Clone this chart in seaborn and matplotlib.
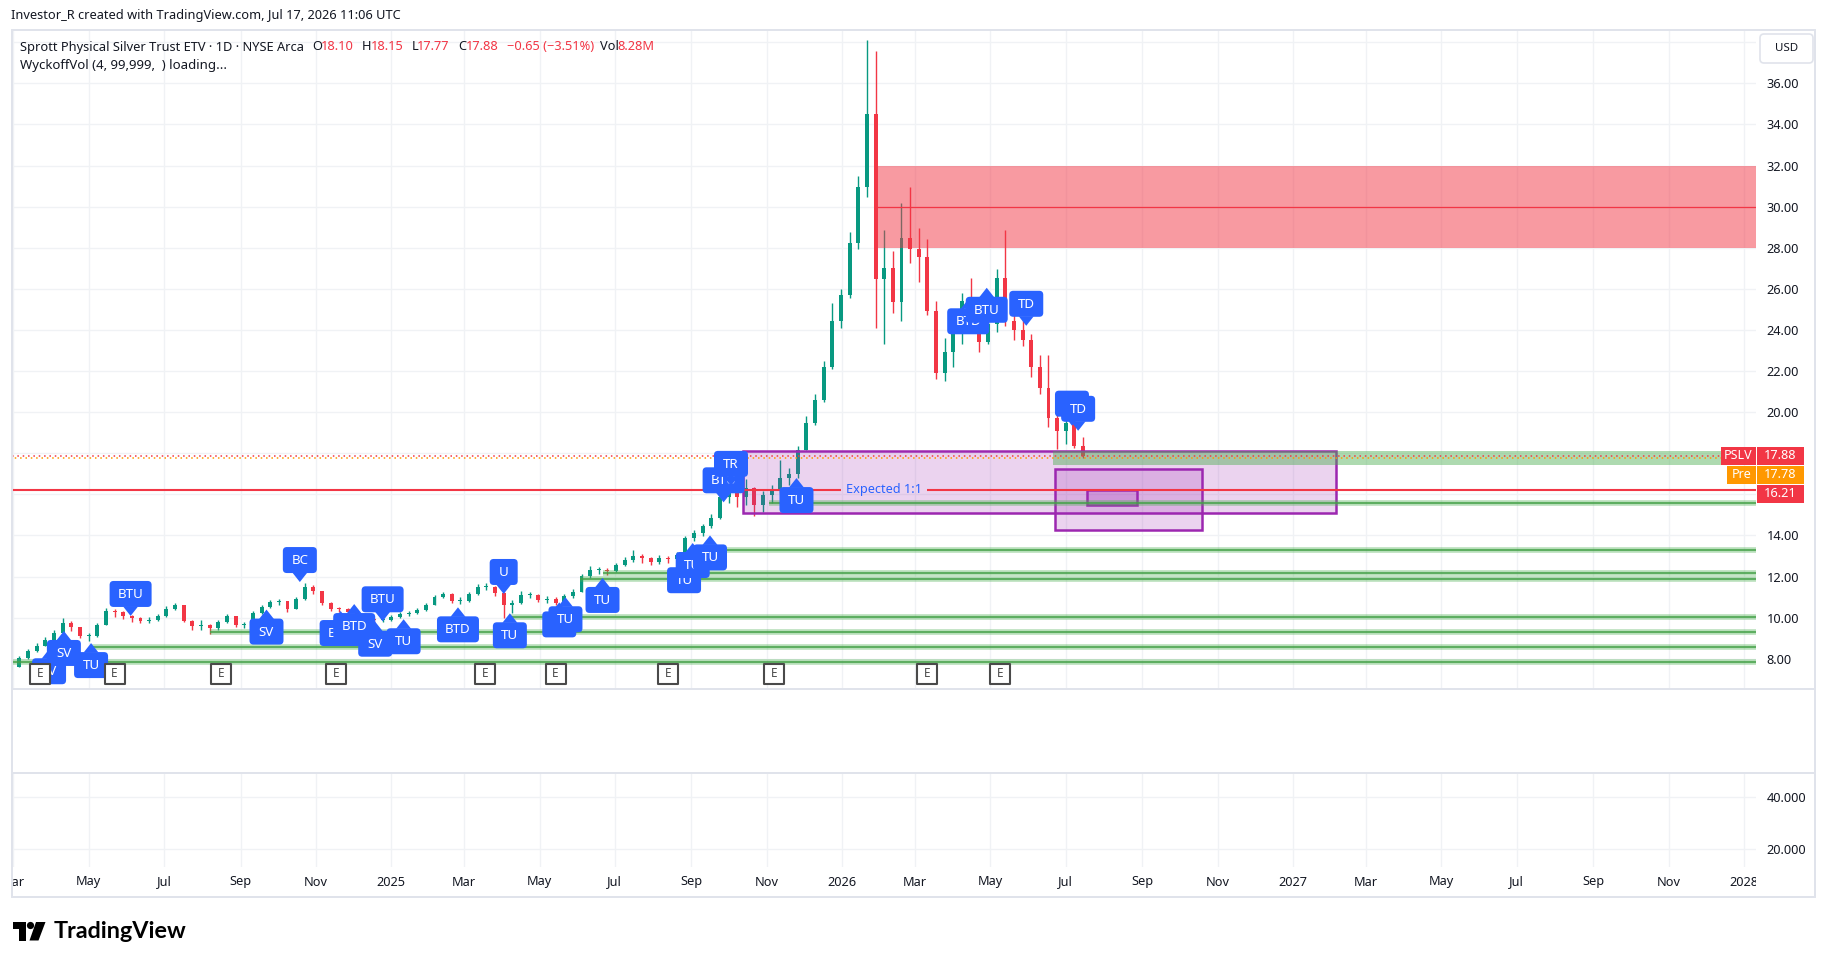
import numpy as np
import pandas as pd
import matplotlib
matplotlib.use('Agg')
import matplotlib.pyplot as plt
import matplotlib.dates as mdates
import matplotlib.transforms as mtransforms
from matplotlib.patches import Rectangle, FancyBboxPatch, Polygon, Circle
from matplotlib.lines import Line2D
import seaborn as sns

# ---------------- data (weekly candles) ----------------
first_week = '2024-03-01'
first_open = 7.45
closes = [7.62, 8.02, 8.37, 8.62, 8.92, 9.27, 9.72, 9.52, 9.12, 9.12,
          9.62, 10.32, 10.27, 10.07, 9.97, 9.82, 9.87, 10.07, 10.44, 10.62,
          9.82, 9.57, 9.62, 9.47, 9.77, 10.07, 9.62, 9.67, 10.22, 10.52,
          10.74, 10.80, 10.42, 10.92, 11.51, 11.28, 10.72, 10.42, 10.40, 10.27,
          10.10, 9.92, 9.87, 9.87, 10.04, 10.19, 10.22, 10.37, 10.62, 10.98,
          11.13, 10.83, 10.83, 11.13, 11.48, 11.48, 11.18, 10.62, 10.72, 11.08,
          11.08, 10.85, 10.91, 10.73, 11.03, 11.23, 12.03, 12.33, 12.33, 12.28,
          12.58, 12.78, 13.00, 12.88, 12.71, 12.89, 12.83, 13.05, 13.85, 14.10,
          14.45, 14.85, 15.86, 16.16, 15.86, 16.31, 15.46, 15.96, 16.16, 16.77,
          16.97, 18.17, 19.49, 20.59, 22.21, 24.41, 25.71, 28.24, 30.97, 34.50,
          26.50, 27.00, 25.35, 28.45, 27.95, 27.55, 24.91, 21.89, 22.91, 24.11,
          25.41, 25.21, 23.41, 24.31, 26.54, 24.41, 24.01, 23.51, 22.19, 21.19,
          19.69, 19.09, 19.47, 18.37, 17.88]
highs = [7.72, 8.12, 8.47, 8.77, 9.07, 9.42, 9.97, 9.82, 9.52, 9.27,
         9.72, 10.47, 10.42, 10.32, 10.12, 10.02, 10.02, 10.17, 10.57, 10.72,
         10.62, 9.87, 9.87, 9.67, 9.87, 10.17, 10.07, 9.77, 10.32, 10.62,
         10.87, 10.92, 10.82, 11.02, 11.68, 11.58, 11.28, 10.77, 10.52, 10.47,
         10.32, 10.17, 9.97, 10.02, 10.12, 10.27, 10.32, 10.47, 10.72, 11.08,
         11.23, 11.18, 10.98, 11.23, 11.63, 11.68, 11.53, 11.23, 10.87, 11.28,
         11.23, 11.13, 11.03, 10.98, 11.13, 11.38, 12.13, 12.53, 12.48, 12.43,
         12.68, 12.93, 13.30, 13.10, 12.95, 13.05, 12.98, 13.20, 13.95, 14.25,
         14.55, 15.05, 16.16, 16.36, 16.46, 16.76, 16.36, 16.16, 16.46, 17.67,
         17.27, 18.37, 19.79, 20.89, 22.51, 25.31, 26.01, 28.74, 31.47, 38.10,
         37.55, 28.84, 27.84, 30.17, 30.97, 28.94, 28.44, 25.41, 23.61, 24.41,
         25.81, 26.55, 25.51, 24.91, 26.94, 28.87, 25.21, 24.51, 23.81, 22.79,
         22.79, 19.89, 19.89, 19.67, 18.77]
lows = [7.37, 7.62, 7.97, 8.32, 8.62, 8.87, 9.22, 9.37, 9.02, 8.87,
        9.07, 9.62, 10.02, 9.92, 9.77, 9.72, 9.72, 9.82, 10.02, 10.37,
        9.77, 9.42, 9.42, 9.22, 9.42, 9.72, 9.52, 9.47, 9.62, 10.17,
        10.47, 10.62, 10.27, 10.42, 10.88, 11.13, 10.62, 10.32, 10.27, 10.17,
        9.97, 9.77, 9.72, 9.77, 9.82, 9.97, 10.07, 10.17, 10.32, 10.62,
        10.93, 10.73, 10.68, 10.78, 11.08, 11.33, 11.03, 9.97, 10.22, 10.67,
        10.93, 10.78, 10.73, 10.63, 10.68, 10.93, 11.23, 11.93, 12.13, 12.08,
        12.23, 12.53, 12.73, 12.68, 12.58, 12.63, 12.68, 12.73, 13.00, 13.75,
        13.95, 14.35, 14.80, 15.56, 15.36, 15.46, 14.96, 15.16, 15.56, 16.06,
        16.47, 16.77, 18.17, 19.39, 20.49, 22.11, 24.11, 25.54, 27.94, 30.47,
        24.11, 23.31, 24.81, 24.41, 27.24, 26.34, 24.71, 21.59, 21.49, 22.19,
        23.31, 24.51, 22.91, 23.31, 23.91, 24.21, 23.51, 23.21, 21.69, 20.89,
        19.29, 18.19, 18.47, 18.27, 17.77]

price_ticks = [8, 10, 12, 14, 16, 18, 20, 22, 24, 26, 28, 30, 32, 34, 36]
grid_prices = [8, 10, 12, 14, 16, 18, 20, 22, 24, 26, 28, 30, 32, 34, 36, 38]
vol_ticks = [20, 40]

xtick_dates = ['2024-03-01', '2024-05-01', '2024-07-01', '2024-09-01', '2024-11-01',
               '2025-01-01', '2025-03-01', '2025-05-01', '2025-07-01', '2025-09-01', '2025-11-01',
               '2026-01-01', '2026-03-01', '2026-05-01', '2026-07-01', '2026-09-01', '2026-11-01',
               '2027-01-01', '2027-03-01', '2027-05-01', '2027-07-01', '2027-09-01', '2027-11-01',
               '2028-01-01']
xtick_labels = ['Mar', 'May', 'Jul', 'Sep', 'Nov', '2025', 'Mar', 'May', 'Jul', 'Sep', 'Nov',
                '2026', 'Mar', 'May', 'Jul', 'Sep', 'Nov', '2027', 'Mar', 'May', 'Jul', 'Sep', 'Nov',
                '2028']

# drawings
red_zone_start = '2026-01-29'
red_zone_low, red_zone_high, red_zone_mid = 28.0, 32.0, 30.0
target_price = 16.21
last_price = 17.88
pre_price = 17.78
support_levels = [15.56, 13.29, 12.16, 11.86, 10.04, 9.30, 8.56, 7.82]
support_starts = ['2025-11-03', '2025-08-31', '2025-06-21', '2025-06-03',
                  '2025-04-07', '2024-08-07', '2024-05-03', '2024-03-01']
green_band_start = '2026-06-21'
green_band_low, green_band_high = 17.44, 18.12
box_starts = ['2025-10-13', '2026-06-22', '2026-07-18']
box_ends = ['2027-02-05', '2026-10-19', '2026-08-28']
box_lows = [15.10, 14.26, 15.49]
box_highs = [18.12, 17.25, 16.21]
expected_text = 'Expected 1:1'
expected_date = '2026-02-04'
expected_gap = ('2025-12-31', '2026-03-11')

# Wyckoff signal labels
signal_dates = ['2024-03-30', '2024-04-11', '2024-05-03', '2024-06-04', '2024-10-19', '2024-09-22',
                '2024-11-21', '2024-12-02', '2024-12-25', '2024-12-19', '2025-01-11', '2025-02-24',
                '2025-04-02', '2025-04-07', '2025-05-17', '2025-05-22', '2025-06-21', '2025-08-26',
                '2025-09-02', '2025-09-16', '2025-09-27', '2025-10-03', '2025-11-25', '2026-04-13',
                '2026-04-28', '2026-05-30', '2026-07-06', '2026-07-11']
signal_prices = [8.46, 9.35, 8.76, 10.08, 11.73, 10.39, 10.32, 10.66, 9.82, 9.80, 9.92, 10.50,
                 11.15, 10.21, 10.74, 10.99, 11.93, 12.89, 13.63, 14.00, 15.61, 16.41, 16.79, 25.49,
                 26.05, 24.20, 19.34, 19.09]
signal_texts = ['SV', 'SV', 'TU', 'BTU', 'BC', 'SV', 'BTD', 'BTD', 'BTU', 'SV', 'TU', 'BTD',
                'U', 'TU', 'TU', 'TU', 'TU', 'TU', 'TU', 'TU', 'BTU', 'TR', 'TU', 'BTD',
                'BTU', 'TD', 'TD', 'TD']
signal_dirs = ['up', 'up', 'up', 'down', 'down', 'up', 'up', 'up', 'down', 'up', 'up', 'up',
               'down', 'up', 'up', 'up', 'up', 'up', 'up', 'up', 'down', 'down', 'up', 'up',
               'up', 'down', 'down', 'down']

earn_dates = ['2024-03-23', '2024-05-22', '2024-08-16', '2024-11-17', '2025-03-18',
              '2025-05-14', '2025-08-13', '2025-11-07', '2026-03-11', '2026-05-09']
earn_level = 7.26

title_text = 'Investor_R created with TradingView.com, Jul 17, 2026 11:06 UTC'
symbol_text = 'Sprott Physical Silver Trust ETV · 1D · NYSE Arca'
ohlc_names = ['O', 'H', 'L', 'C']
ohlc_values = ['18.10', '18.15', '17.77', '17.88']
change_text = '\u22120.65 (\u22123.51%)'
vol_text = '8.28M'
indicator_text = 'WyckoffVol (4, 99,999,  ) loading...'

# ---------------- style ----------------
UP = '#089981'
DOWN = '#F23645'
RED = '#F23645'
ORANGE = '#FF9800'
BLUE = '#2962FF'
PURPLE = '#9C27B0'
GREEN = '#4CAF50'
GRID = '#F0F2F5'
FRAME = '#E0E3EB'
INK = '#131722'

sns.set_theme(style='white')
plt.rcParams['font.family'] = ['Noto Sans', 'DejaVu Sans']

W, H = 1826, 964
fig = plt.figure(figsize=(W / 100, H / 100), dpi=100)
fig.patch.set_facecolor('white')


def frac(x0, y0, x1, y1):
    return [x0 / W, 1 - y1 / H, (x1 - x0) / W, (y1 - y0) / H]


PL, PR = 12, 1756
ax = fig.add_axes(frac(PL, 30, PR, 689.3))
ax2 = fig.add_axes(frac(PL, 689.3, PR, 772.7), sharex=ax)
ax3 = fig.add_axes(frac(PL, 772.7, PR, 866.7), sharex=ax)
axt = fig.add_axes(frac(PL, 866.7, PR, 897.3), sharex=ax)

num = lambda d: mdates.date2num(pd.Timestamp(d))
x_left = num('2024-02-29')
x_right = num('2028-01-10') + 0.7
ax.set_xlim(x_left, x_right)
ax.set_ylim(6.511, 38.594)
ax2.set_ylim(0, 1)
ax3.set_ylim(13.3, 49.46)
axt.set_ylim(0, 1)

for a in (ax, ax2, ax3, axt):
    a.set_facecolor('white')
    for s in a.spines.values():
        s.set_visible(False)
    a.tick_params(axis='x', length=0, labelbottom=False)
ax2.set_yticks([])
axt.set_yticks([])

# pixel transform (image pixels, y down)
pix = mtransforms.Affine2D().scale(1.0 / W, -1.0 / H).translate(0, 1) + fig.transFigure


def to_px(xn, p, a=ax):
    xd, yd = a.transData.transform((xn, p))
    return xd, H - yd


# grid
xt = [num(d) for d in xtick_dates]
for x in xt:
    ax.axvline(x, color=GRID, lw=1, zorder=0)
    ax3.axvline(x, color=GRID, lw=1, zorder=0)
for p in grid_prices:
    ax.axhline(p, color=GRID, lw=1, zorder=0)
for v in vol_ticks:
    ax3.axhline(v, color=GRID, lw=1, zorder=0)

# price axis labels
ax.yaxis.tick_right()
ax.set_yticks(price_ticks)
ax.set_yticklabels([f'{v:.2f}' for v in price_ticks])
ax.tick_params(axis='y', length=0, pad=7.5, labelsize=9.2, labelcolor=INK)
ax3.yaxis.tick_right()
ax3.set_yticks(vol_ticks)
ax3.set_yticklabels([f'{v:.3f}' for v in vol_ticks])
ax3.tick_params(axis='y', length=0, pad=7.5, labelsize=9.2, labelcolor=INK)
ax.grid(False)
ax3.grid(False)

# candles
week_dates = pd.date_range(first_week, periods=len(closes), freq='7D') - pd.Timedelta(days=2)
xd = mdates.date2num(week_dates)
c = np.array(closes)
o = np.array([first_open] + closes[:-1])
cols = [UP if cc >= oo else DOWN for cc, oo in zip(c, o)]
ax.vlines(xd, lows, highs, colors=cols, lw=1.0, zorder=2)
ax.bar(xd, np.maximum(np.abs(c - o), 0.05), bottom=np.minimum(o, c), width=3.2,
       color=cols, linewidth=0, zorder=3)

# red zone
rz0 = num(red_zone_start)
ax.add_patch(Rectangle((rz0, red_zone_low), x_right - rz0, red_zone_high - red_zone_low,
                       facecolor=RED, alpha=0.5, lw=0, zorder=4))
ax.hlines(red_zone_mid, rz0, x_right, color=RED, lw=0.9, zorder=4.1)

# purple boxes
for b0, b1, lo, hi in zip(box_starts, box_ends, box_lows, box_highs):
    ax.add_patch(Rectangle((num(b0), lo), num(b1) - num(b0), hi - lo,
                           facecolor=(0.612, 0.153, 0.69, 0.2), edgecolor=PURPLE, lw=1.8, zorder=4.2))

# green band
gb0 = num(green_band_start)
ax.add_patch(Rectangle((gb0, green_band_low), x_right - gb0, green_band_high - green_band_low,
                       facecolor=GREEN, alpha=0.45, lw=0, zorder=4.3))

# support lines
for lvl, st in zip(support_levels, support_starts):
    ax.hlines(lvl, num(st), x_right, color=GREEN, alpha=0.4, lw=4.0, zorder=4.4)
    ax.hlines(lvl, num(st), x_right, color='#43A047', lw=1.1, zorder=4.5)

# target line with text gap
ax.hlines(target_price, x_left, num(expected_gap[0]), color=RED, lw=1.5, zorder=4.6)
ax.hlines(target_price, num(expected_gap[1]), x_right, color=RED, lw=1.5, zorder=4.6)
exp_t = ax.text(num(expected_date), target_price, expected_text, color=BLUE, ha='center',
                va='center', fontsize=9.5, zorder=4.7)

# price lines (dotted)
ax.axhline(last_price, color=RED, lw=1.1, ls=(0, (1, 2.5)), zorder=4.8)
ax.axhline(pre_price, color=ORANGE, lw=1.1, ls=(1.7, (1, 2.5)), zorder=4.8)

# signal labels
widths = {1: 28, 2: 34, 3: 42}
for i, (d, p, t, dr) in enumerate(zip(signal_dates, signal_prices, signal_texts, signal_dirs)):
    tx, ty = to_px(num(d), p)
    w = widths[len(t)]
    z = 6 + i * 0.02
    if dr == 'up':
        top = ty + 9
        tri = [(tx, ty), (tx - 7.5, ty + 9.5), (tx + 7.5, ty + 9.5)]
    else:
        top = ty - 35
        tri = [(tx, ty), (tx - 7.5, ty - 9.5), (tx + 7.5, ty - 9.5)]
    ax.add_patch(FancyBboxPatch((tx - w / 2, top), w, 26, boxstyle='round,pad=0,rounding_size=4',
                                transform=pix, fc=BLUE, ec='none', zorder=z, clip_on=False))
    ax.add_patch(Polygon(tri, closed=True, transform=pix, fc=BLUE, ec='none', zorder=z, clip_on=False))
    ax.text(tx, top + 13.5, t, transform=pix, ha='center', va='center', color='white',
            fontsize=9.6, zorder=z + 0.01)

# earnings markers
ex = [num(d) for d in earn_dates]
sns.scatterplot(x=ex, y=[earn_level] * len(ex), marker='s', s=200, color='white',
                edgecolor='#4A4A4A', linewidth=1.5, ax=ax, zorder=8, legend=False)
for x in ex:
    ax.text(x, earn_level, 'E', ha='center', va='center', fontsize=8.5, fontweight='bold',
            color='#4A4A4A', zorder=8.1)
ax.set_xlabel('')
ax.set_ylabel('')

# time axis labels
for x, lab in zip(xt, xtick_labels):
    axt.text(x, 0.5, lab, transform=axt.get_xaxis_transform(), ha='center', va='center',
             fontsize=9.2, fontweight='bold' if lab.isdigit() else 'normal', color=INK, clip_on=True)

# frame and pane separators
fig.add_artist(Rectangle((11.5, 30), 1815 - 11.5, 897.3 - 30, transform=pix, fill=False,
                         ec=FRAME, lw=1.4, zorder=3))
for yy in (689.3, 772.7):
    fig.add_artist(Line2D([11.5, 1815], [yy, yy], transform=pix, color=FRAME, lw=1.4, zorder=3))

# price tags on the axis
tag_h = 18
_, y_last = to_px(x_left, last_price)
_, y_pre = to_px(x_left, pre_price)
_, y_tgt = to_px(x_left, target_price)
prev_bottom = -1e9
for yc, txt, col, side in [(y_last, f'{last_price:.2f}', RED, 'PSLV'),
                           (y_pre, f'{pre_price:.2f}', ORANGE, 'Pre'),
                           (y_tgt, f'{target_price:.2f}', RED, None)]:
    yc = max(yc, prev_bottom + 1 + tag_h / 2)
    prev_bottom = yc + tag_h / 2
    fig.add_artist(Rectangle((1757, yc - tag_h / 2), 47, tag_h, transform=pix, fc=col, ec='none', zorder=5))
    fig.text(1780.5, yc, txt, transform=pix, ha='center', va='center', color='white', fontsize=9.2, zorder=6)
    if side:
        sw = 35 if side == 'PSLV' else 29
        fig.add_artist(Rectangle((1756 - sw, yc - tag_h / 2), sw, tag_h, transform=pix, fc=col,
                                 ec='none', zorder=5))
        fig.text(1756 - sw / 2, yc, side, transform=pix, ha='center', va='center', color='white',
                 fontsize=9, zorder=6)

# USD box
fig.add_artist(FancyBboxPatch((1760, 34), 53, 29, boxstyle='round,pad=0,rounding_size=4',
                              transform=pix, fc='white', ec=FRAME, lw=1.2, zorder=5))
fig.text(1786.5, 48.5, 'USD', transform=pix, ha='center', va='center', fontsize=8.3, color=INK, zorder=6)

# header text
r = fig.canvas.get_renderer()


def fit(t, target):
    w = t.get_window_extent(r).width
    t.set_fontsize(t.get_fontsize() * target / w)


t_title = fig.text(11, 16, title_text, transform=pix, ha='left', va='center', fontsize=9.5, color=INK)
fit(t_title, 389)
t_sym = fig.text(20, 47, symbol_text, transform=pix, ha='left', va='center', fontsize=9.5, color=INK)
fit(t_sym, 283)
fs = t_sym.get_fontsize()
name_x = [312.5, 361.6, 411.6, 458.5]
val_x = [320.5, 370.5, 416.5, 465.6]
for nm, vl, nx, vx in zip(ohlc_names, ohlc_values, name_x, val_x):
    fig.text(nx, 47, nm, transform=pix, ha='left', va='center', fontsize=fs, color=INK)
    fig.text(vx, 47, vl, transform=pix, ha='left', va='center', fontsize=fs, color=RED)
fig.text(506.7, 47, change_text, transform=pix, ha='left', va='center', fontsize=fs, color=RED)
fig.text(600, 47, 'Vol', transform=pix, ha='left', va='center', fontsize=fs, color=INK)
fig.text(617.4, 47, vol_text, transform=pix, ha='left', va='center', fontsize=fs, color=RED)
t_ind = fig.text(20, 65.5, indicator_text, transform=pix, ha='left', va='center', fontsize=fs, color=INK)
fit(t_ind, 208)
fit(exp_t, 76)

# TradingView logo
fig.add_artist(Polygon([(12.5, 922), (26, 922), (26, 940.5), (19, 940.5), (19, 929), (12.5, 929)],
                       closed=True, transform=pix, fc='black', ec='none'))
fig.add_artist(Circle((30.5, 925.5), 3.6, transform=pix, fc='black', ec='none'))
fig.add_artist(Polygon([(36, 922), (45.5, 922), (38.5, 940.5), (29.5, 940.5)],
                       closed=True, transform=pix, fc='black', ec='none'))
t_logo = fig.text(53.6, 937.5, 'TradingView', transform=pix, ha='left', va='baseline',
                  fontsize=15, fontweight='bold', family=['Lato', 'DejaVu Sans'], color='black')
fit(t_logo, 133)

fig.savefig('out.png', dpi=100, facecolor='white')
